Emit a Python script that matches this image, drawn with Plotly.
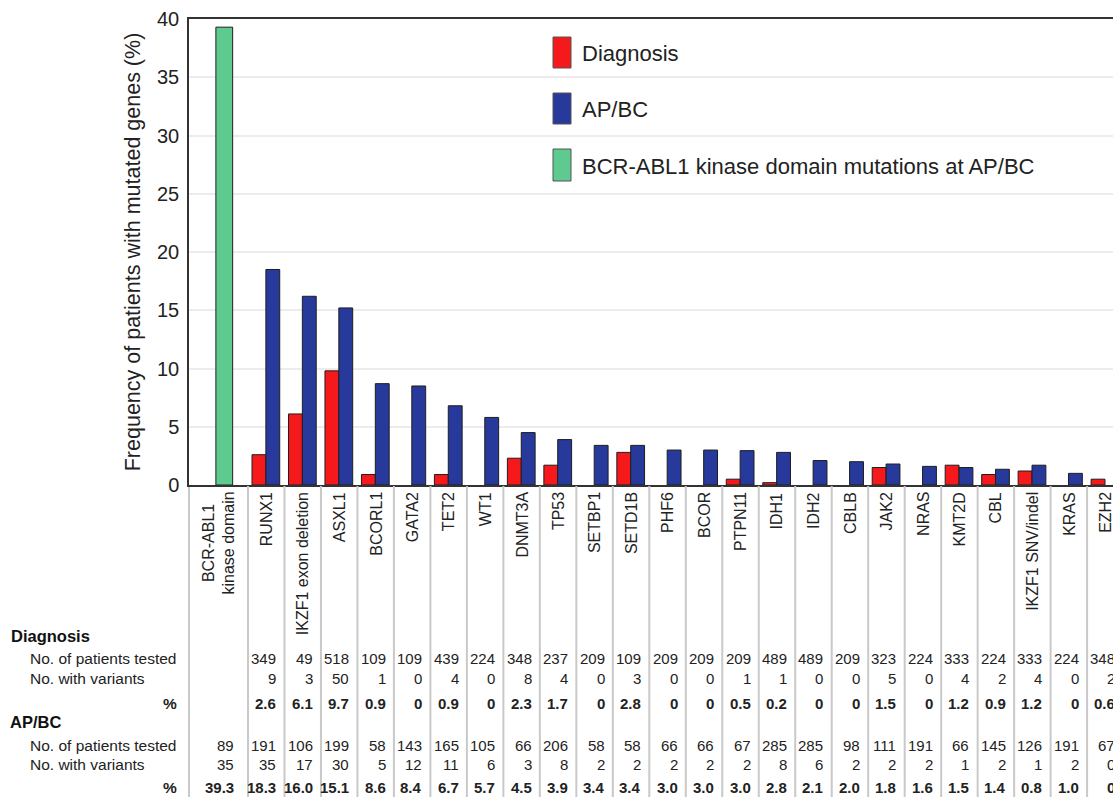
import plotly.graph_objects as go

# ---------------- data ----------------
genes = ["BCR-ABL1<br>kinase domain", "RUNX1", "IKZF1 exon deletion", "ASXL1", "BCORL1", "GATA2",
         "TET2", "WT1", "DNMT3A", "TP53", "SETBP1", "SETD1B", "PHF6", "BCOR", "PTPN11",
         "IDH1", "IDH2", "CBLB", "JAK2", "NRAS", "KMT2D", "CBL", "IKZF1 SNV/indel", "KRAS", "EZH2"]

diag_tested = [None, 349, 49, 518, 109, 109, 439, 224, 348, 237, 209, 109, 209, 209, 209,
               489, 489, 209, 323, 224, 333, 224, 333, 224, 348]
diag_variants = [None, 9, 3, 50, 1, 0, 4, 0, 8, 4, 0, 3, 0, 0, 1,
                 1, 0, 0, 5, 0, 4, 2, 4, 0, 2]
diag_pct = [None, 2.6, 6.1, 9.7, 0.9, 0, 0.9, 0, 2.3, 1.7, 0, 2.8, 0, 0, 0.5,
            0.2, 0, 0, 1.5, 0, 1.2, 0.9, 1.2, 0, 0.6]

apbc_tested = [89, 191, 106, 199, 58, 143, 165, 105, 66, 206, 58, 58, 66, 66, 67,
               285, 285, 98, 111, 191, 66, 145, 126, 191, 67]
apbc_variants = [35, 35, 17, 30, 5, 12, 11, 6, 3, 8, 2, 2, 2, 2, 2,
                 8, 6, 2, 2, 2, 1, 2, 1, 2, 0]
apbc_pct = [39.3, 18.3, 16.0, 15.1, 8.6, 8.4, 6.7, 5.7, 4.5, 3.9, 3.4, 3.4, 3.0, 3.0, 3.0,
            2.8, 2.1, 2.0, 1.8, 1.6, 1.5, 1.4, 0.8, 1.0, 0]

# bar heights as drawn in the chart (gene index 1..24)
diag_bar = [2.6, 6.1, 9.8, 0.9, 0, 0.9, 0, 2.3, 1.7, 0, 2.8, 0, 0, 0.5,
            0.2, 0, 0, 1.5, 0, 1.7, 0.9, 1.2, 0, 0.5]
apbc_bar = [18.5, 16.2, 15.2, 8.7, 8.5, 6.8, 5.8, 4.5, 3.9, 3.4, 3.4, 3.0, 3.0, 2.95,
            2.8, 2.1, 2.0, 1.8, 1.6, 1.5, 1.35, 1.7, 1.0, 0]
kd_bar = [39.3]

legend_names = ["Diagnosis", "AP/BC", "BCR-ABL1 kinase domain mutations at AP/BC"]

# ---------------- styling / geometry ----------------
RED = "#f5191c"
BLUE = "#27399b"
GREEN = "#5fca8f"
EDGE = "#1e1e1e"
FONT = "Liberation Sans, Arial, sans-serif"
TXT = "#222222"

W, H = 1113, 797
L, T, B = 189, 19, 485
XR = [-1.117, 24.21]


def xp(p):
    return (p - XR[0]) / (XR[1] - XR[0])


def xpx(px):
    return (px - L) / (W - L)


def yp(py):
    return (B - py) / (B - T)


def hide_zero(vals):
    return [v if v else None for v in vals]


fig = go.Figure()

fig.add_trace(go.Bar(x=genes[:1], y=kd_bar, name=legend_names[2], marker_color=GREEN,
                     marker_line=dict(color=EDGE, width=1), offset=-0.38, width=0.46,
                     showlegend=False))
fig.add_trace(go.Bar(x=genes[1:], y=hide_zero(diag_bar), name=legend_names[0], marker_color=RED,
                     marker_line=dict(color=EDGE, width=1), offset=-0.39, width=0.38,
                     showlegend=False))
fig.add_trace(go.Bar(x=genes[1:], y=hide_zero(apbc_bar), name=legend_names[1], marker_color=BLUE,
                     marker_line=dict(color=EDGE, width=1), offset=-0.01, width=0.38,
                     showlegend=False))

shapes = []
annotations = []

# table column separators
shapes.append(dict(type="line", xref="paper", yref="paper", x0=0, x1=0, y0=yp(800), y1=0,
                   line=dict(color="#c9c9c9", width=2), layer="below"))
for i in range(len(genes) - 1):
    x = xp(i + 0.5)
    shapes.append(dict(type="line", xref="paper", yref="paper", x0=x, x1=x, y0=yp(800), y1=yp(486),
                       line=dict(color="#c9c9c9", width=2)))

# category labels
for i, g in enumerate(genes):
    x = xpx(218) if i == 0 else xp(i)
    annotations.append(dict(text=g, x=x, y=yp(490), xref="paper", yref="paper",
                            xanchor="center", yanchor="top", textangle=-90, showarrow=False,
                            align="center", font=dict(family=FONT, size=16, color=TXT)))

# row headers
row_y = dict(dh=636, dt=658, dv=678, dp=703, ah=722, at=745, av=764, ap=787)
annotations.append(dict(text="<b>Diagnosis</b>", x=xpx(9), y=yp(row_y["dh"]), xref="paper", yref="paper",
                        xanchor="left", yanchor="middle", showarrow=False,
                        font=dict(family=FONT, size=16.5, color="#111")))
annotations.append(dict(text="<b>AP/BC</b>", x=xpx(8), y=yp(row_y["ah"]), xref="paper", yref="paper",
                        xanchor="left", yanchor="middle", showarrow=False,
                        font=dict(family=FONT, size=16.5, color="#111")))
for key, lab in [("dt", "No. of patients tested"), ("dv", "No. with variants"),
                 ("at", "No. of patients tested"), ("av", "No. with variants")]:
    annotations.append(dict(text=lab, x=xpx(28), y=yp(row_y[key]), xref="paper", yref="paper",
                            xanchor="left", yanchor="middle", showarrow=False,
                            font=dict(family=FONT, size=15.5, color=TXT)))
for key in ["dp", "ap"]:
    annotations.append(dict(text="<b>%</b>", x=xpx(179), y=yp(row_y[key]), xref="paper", yref="paper",
                            xanchor="right", yanchor="middle", showarrow=False,
                            font=dict(family=FONT, size=15.5, color=TXT)))


def fmt_diag(v):
    return "" if v is None else f"{v:g}"


def fmt_apbc(v):
    return "0" if v == 0 else f"{v:.1f}"


for i in range(len(genes)):
    x = xpx(236) if i == 0 else xp(i) + 12 / (W - L)
    cells = [
        ("dt", "" if diag_tested[i] is None else str(diag_tested[i]), False),
        ("dv", "" if diag_variants[i] is None else str(diag_variants[i]), False),
        ("dp", fmt_diag(diag_pct[i]), True),
        ("at", str(apbc_tested[i]), False),
        ("av", str(apbc_variants[i]), False),
        ("ap", fmt_apbc(apbc_pct[i]), True),
    ]
    for key, txt, bold in cells:
        if txt == "":
            continue
        annotations.append(dict(text=f"<b>{txt}</b>" if bold else txt, x=x, y=yp(row_y[key]),
                                xref="paper", yref="paper", xanchor="right", yanchor="middle",
                                showarrow=False, font=dict(family=FONT, size=15, color=TXT)))

# legend (drawn)
leg_boxes = [(37, 68, RED), (93, 124, BLUE), (149, 181, GREEN)]
for (ytop, ybot, col), name in zip(leg_boxes, legend_names):
    shapes.append(dict(type="rect", xref="paper", yref="paper", x0=xpx(553), x1=xpx(571),
                       y0=yp(ybot), y1=yp(ytop), fillcolor=col, line=dict(color="#555", width=1)))
    annotations.append(dict(text=name, x=xpx(580), y=yp((ytop + ybot) / 2 + 1), xref="paper", yref="paper",
                            xanchor="left", yanchor="middle", showarrow=False,
                            font=dict(family=FONT, size=22, color=TXT)))

fig.update_layout(
    width=W, height=H,
    margin=dict(l=L, r=0, t=T, b=H - B, pad=0),
    paper_bgcolor="white", plot_bgcolor="white",
    barmode="overlay",
    shapes=shapes, annotations=annotations,
    font=dict(family=FONT, color=TXT),
    xaxis=dict(type="category", range=XR, showticklabels=False, showgrid=False, ticks="",
               showline=True, linecolor="#333", linewidth=1.5, mirror=True, zeroline=False,
               fixedrange=True),
    yaxis=dict(range=[0, 40], dtick=5, showgrid=True, gridcolor="#ececec", gridwidth=1.5,
               showline=True, linecolor="#333", linewidth=1.5, zeroline=False, ticks="",
               ticklabelstandoff=4, tickfont=dict(family=FONT, size=20, color=TXT),
               title=dict(text="Frequency of patients with mutated genes (%)",
                          font=dict(family=FONT, size=21.5, color=TXT), standoff=10)),
    showlegend=False,
)

fig.write_html("out.html", config={"displayModeBar": False},
               post_script="document.body.style.margin='0';document.body.style.overflow='hidden';")
